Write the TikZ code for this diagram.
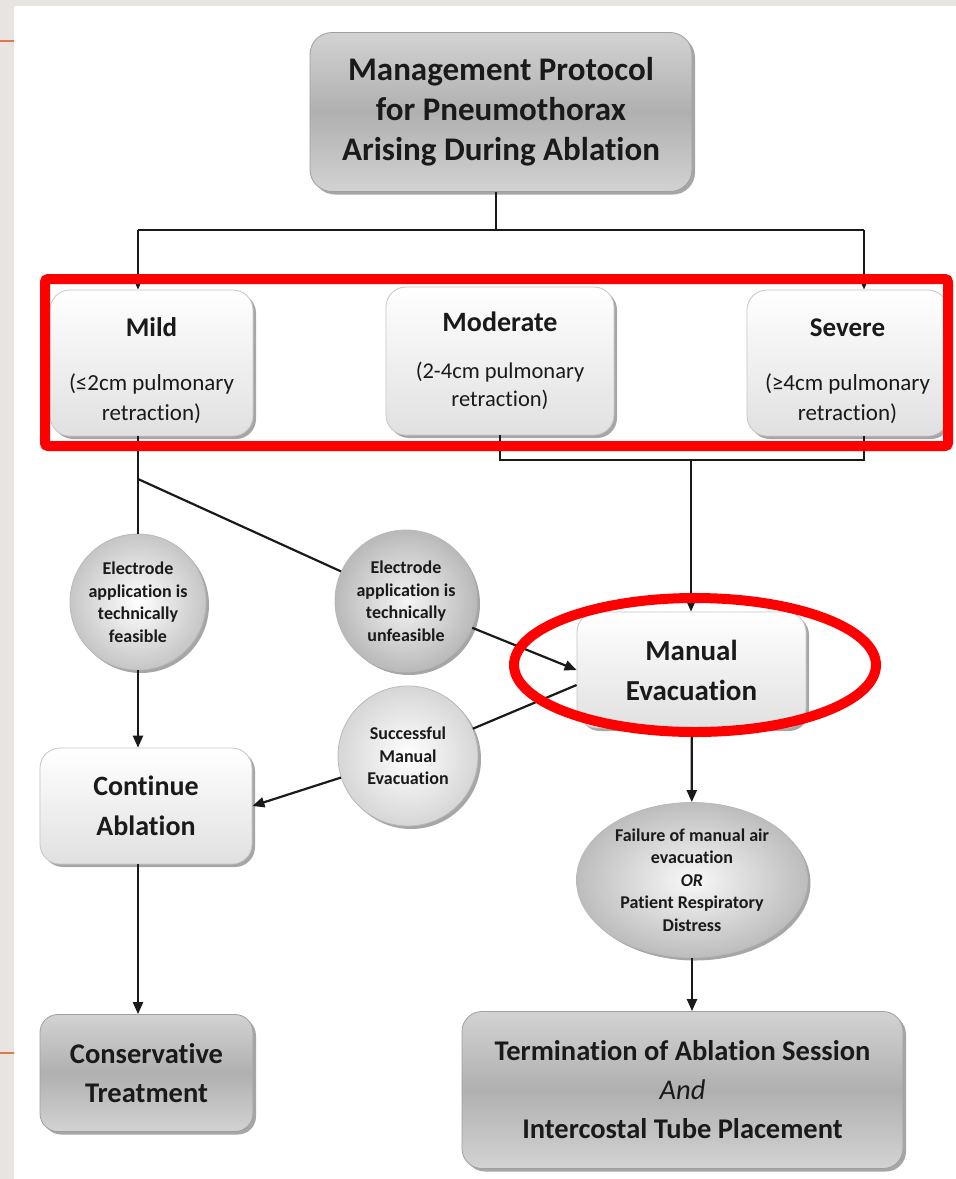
\documentclass[tikz,border=0pt]{standalone}
\usepackage{fontspec}
\setmainfont{Carlito}[Ligatures=NoCommon]
\usetikzlibrary{shapes.geometric,shadows,arrows.meta}
\definecolor{strip}{HTML}{E8E4E1}
\definecolor{tick}{HTML}{E0784A}
\definecolor{hl}{HTML}{FF0000}
\definecolor{ink}{HTML}{1A1A1A}

\tikzset{
  shadowed/.style={drop shadow={shadow xshift=3pt,shadow yshift=-3pt,opacity=0.35,fill=black}},
  darkbox/.style={shadowed,draw=gray!75,line width=0.8pt,rounded corners=22pt,
    top color=gray!35,bottom color=gray!35,middle color=gray!62,
    align=center,inner sep=0pt,text=ink},
  lightbox/.style={shadowed,draw=gray!45,line width=0.8pt,rounded corners=20pt,
    top color=white,bottom color=gray!24,
    align=center,inner sep=0pt,text=ink},
  bubble/.style={shadowed,circle,draw=gray!55,line width=0.8pt,inner sep=0pt,
    inner color=white,outer color=gray!45,align=center,text=ink,
    font=\fontsize{18}{22.5}\selectfont\bfseries},
  conn/.style={draw=ink,line width=2.2pt},
  arr/.style={-{Triangle[length=12pt,width=10pt]}},
  hilite/.style={draw=hl,line width=10pt,rounded corners=3pt}
}

\begin{document}
\begin{tikzpicture}[x=1pt,y=-1pt]
  \useasboundingbox (0,0) rectangle (956,1179);
  \fill[strip] (0,0) rectangle (956,1179);
  \fill[white] (14,6) rectangle (956,1179);
  \draw[tick,line width=1.5pt] (0,41) -- (14,41);
  \draw[tick,line width=1.5pt] (0,1053) -- (14,1053);

  % title and grades
  \node[darkbox,minimum width=382pt,minimum height=159pt,
    font=\fontsize{33}{40}\selectfont\bfseries] (title) at (501,112)
    {Management Protocol\\for Pneumothorax\\Arising During Ablation};
  \node[lightbox,minimum width=203pt,minimum height=146pt,
    font=\fontsize{23}{30}\selectfont] (mild) at (151.5,363)
    {\rule{0pt}{34pt}{\fontsize{27}{30}\selectfont\bfseries Mild}\\[24pt](≤2cm pulmonary\\retraction)};
  \node[lightbox,minimum width=228pt,minimum height=148pt,
    font=\fontsize{22.5}{28}\selectfont] (moderate) at (500,361)
    {{\fontsize{28}{28}\selectfont\bfseries Moderate}\\[19pt](2-4cm pulmonary\\retraction)};
  \node[lightbox,minimum width=201pt,minimum height=146pt,
    font=\fontsize{23}{30}\selectfont] (severe) at (847.5,363)
    {\rule{0pt}{34pt}{\fontsize{27}{30}\selectfont\bfseries Severe}\\[24pt](≥4cm pulmonary\\retraction)};

  % decisions
  \node[bubble,minimum size=136pt] (feas) at (138,602)
    {Electrode\\application is\\technically\\feasible};
  \node[bubble,minimum size=142pt,inner color=gray!8,outer color=gray!55] (unfeas) at (406,601)
    {Electrode\\application is\\technically\\unfeasible};
  \node[bubble,minimum size=140pt,outer color=gray!32] (success) at (408,756)
    {Successful\\Manual\\Evacuation};
  \node[bubble,ellipse,minimum width=231pt,minimum height=155pt,
    inner color=gray!5,outer color=gray!52] (fail) at (692,880)
    {Failure of manual air\\evacuation\\{\itshape OR}\\Patient Respiratory\\Distress};

  % actions
  \node[lightbox,minimum width=229pt,minimum height=116pt,
    font=\fontsize{29}{40}\selectfont\bfseries] (manual) at (691.5,670)
    {Manual\\Evacuation};
  \node[lightbox,minimum width=212pt,minimum height=116pt,
    font=\fontsize{28}{40}\selectfont\bfseries] (cont) at (146,806)
    {Continue\\Ablation};
  \node[darkbox,minimum width=213pt,minimum height=117pt,rounded corners=18pt,
    font=\fontsize{28.5}{39}\selectfont\bfseries] (conserv) at (146.5,1073)
    {Conservative\\Treatment};
  \node[darkbox,minimum width=441pt,minimum height=157pt,rounded corners=20pt,
    font=\fontsize{28.5}{39}\selectfont\bfseries] (term) at (682.5,1090)
    {Termination of Ablation Session\\{\mdseries\itshape And}\\Intercostal Tube Placement};

  % connectors
  \coordinate (splitT) at (496,230);
  \coordinate (splitL) at (138,230);
  \coordinate (splitR) at (864,230);
  \draw[conn] (splitT |- title.south) -- (splitT);
  \draw[conn] (splitL) -- (splitR);
  \draw[conn,arr] (splitL) -- (splitL |- mild.north);
  \draw[conn,arr] (splitR) -- (splitR |- severe.north);

  \coordinate (joinR) at (864,460);
  \coordinate (joinM) at (691,460);
  \draw[conn] (moderate.south) -- (moderate.south |- joinR) -- (joinR) -- (joinR |- severe.south);
  \draw[conn,arr] (joinM) -- (joinM |- manual.north);

  \coordinate (fork) at (138,479);
  \draw[conn] (fork |- mild.south) -- (fork) -- (feas);
  \draw[conn] (fork) -- (unfeas);
  \draw[conn,arr] (unfeas) -- (manual.west);
  \draw[conn] ([yshift=-15pt]manual.west) -- (success);
  \draw[conn,arr] (success) -- (cont.east);
  \draw[conn,arr] (feas) -- (feas |- cont.north);
  \draw[conn,arr] (cont.south -| feas) -- (feas |- conserv.north);
  \draw[conn,arr] (manual) -- (fail);
  \draw[conn,arr] (fail) -- (fail |- term.north);

  % highlights
  \draw[hilite] (45,279) rectangle (948,446);
  \draw[hilite] (695,665) ellipse [x radius=181pt,y radius=67pt];
\end{tikzpicture}
\end{document}
